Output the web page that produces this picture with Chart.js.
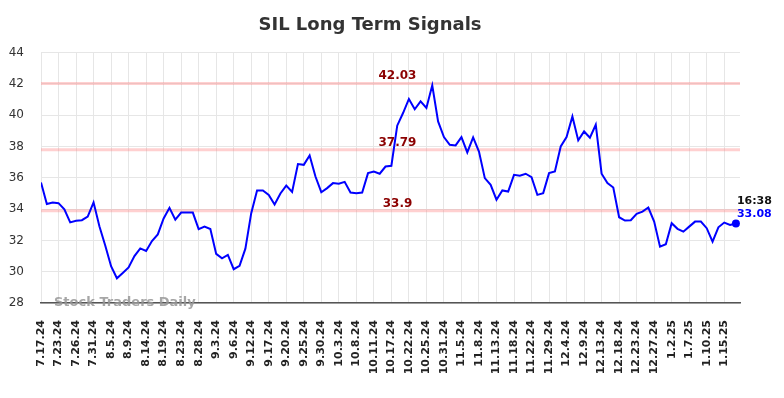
<!DOCTYPE html>
<html>
<head>
<meta charset="utf-8">
<script src="https://cdn.jsdelivr.net/npm/chart.js@4.4.1/dist/chart.umd.min.js"></script>
<style>
html,body{margin:0;padding:0;background:#fff;}
#wrap{width:784px;height:398px;}
</style>
</head>
<body>
<div id="wrap"><canvas id="c"></canvas></div>
<script>
// tick labels, one every 3rd trading day
const tickLabels = ['7.17.24','7.23.24','7.26.24','7.31.24','8.5.24','8.9.24','8.14.24','8.19.24','8.23.24','8.28.24',
  '9.3.24','9.6.24','9.12.24','9.17.24','9.20.24','9.25.24','9.30.24','10.3.24','10.8.24','10.11.24',
  '10.17.24','10.22.24','10.25.24','10.31.24','11.5.24','11.8.24','11.13.24','11.18.24','11.22.24','11.29.24',
  '12.4.24','12.9.24','12.13.24','12.18.24','12.23.24','12.27.24','1.2.25','1.7.25','1.10.25','1.15.25'];

const prices = [
  35.70, 34.33, 34.42, 34.38, 33.98, 33.15, 33.25, 33.29, 33.52, 34.43,
  32.90, 31.68, 30.35, 29.58, 29.92, 30.27, 31.00, 31.49, 31.33, 31.96,
  32.38, 33.40, 34.08, 33.33, 33.78, 33.78, 33.78, 32.72, 32.88, 32.73,
  31.14, 30.85, 31.07, 30.16, 30.38, 31.47, 33.74, 35.19, 35.19, 34.91,
  34.30, 35.00, 35.50, 35.10, 36.88, 36.83, 37.43, 36.08, 35.08, 35.34,
  35.66, 35.62, 35.74, 35.06, 35.02, 35.06, 36.30, 36.40, 36.26, 36.72,
  36.77, 39.33, 40.14, 41.04, 40.38, 40.88, 40.46, 41.91, 39.60, 38.60,
  38.11, 38.07, 38.60, 37.62, 38.58, 37.68, 35.98, 35.55, 34.60, 35.19,
  35.12, 36.19, 36.13, 36.26, 36.04, 34.91, 35.02, 36.30, 36.40, 38.00,
  38.60, 39.92, 38.39, 38.96, 38.56, 39.39, 36.26, 35.66, 35.38, 33.48,
  33.27, 33.29, 33.70, 33.84, 34.10, 33.20, 31.60, 31.76, 33.10, 32.74,
  32.56, 32.88, 33.20, 33.20, 32.78, 31.92, 32.84, 33.14, 32.99, 33.08
];

const levels = [42.03, 37.79, 33.9];
const yTicks = [28, 30, 32, 34, 36, 38, 40, 42, 44];
const lastTime = '16:38';

const lastIdx = prices.length - 1;
const FONT = "'DejaVu Sans', sans-serif";

const extras = {
  id: 'extras',
  beforeDatasetsDraw(chart) {
    const { ctx, chartArea: a, scales: { y } } = chart;
    ctx.save();
    ctx.strokeStyle = 'rgba(255,120,120,0.35)';
    ctx.lineWidth = 3;
    levels.forEach(v => {
      const py = y.getPixelForValue(v);
      ctx.beginPath(); ctx.moveTo(a.left, py); ctx.lineTo(a.right, py); ctx.stroke();
    });
    ctx.fillStyle = '#8b0000';
    ctx.font = 'bold 12px ' + FONT;
    ctx.textAlign = 'center';
    ctx.textBaseline = 'alphabetic';
    const lx = a.left + (a.right - a.left) * 0.51;
    levels.forEach(v => {
      ctx.fillText(String(v), lx, y.getPixelForValue(v) - 4);
    });
    ctx.restore();
  },
  afterDraw(chart) {
    const { ctx, chartArea: a } = chart;
    ctx.save();
    ctx.font = 'bold 13px ' + FONT;
    ctx.fillStyle = 'rgba(150,150,150,0.85)';
    ctx.textAlign = 'left';
    ctx.fillText('Stock Traders Daily', a.left + 13, a.bottom + 3);
    const pt = chart.getDatasetMeta(0).data[lastIdx];
    ctx.font = 'bold 11px ' + FONT;
    ctx.fillStyle = '#111';
    ctx.fillText(lastTime, pt.x + 1, pt.y - 19);
    ctx.fillStyle = '#0000ff';
    ctx.fillText(prices[lastIdx].toFixed(2), pt.x + 1, pt.y - 6);
    ctx.restore();
  }
};

new Chart(document.getElementById('c'), {
  type: 'line',
  data: {
    datasets: [{
      data: prices.map((v, i) => ({ x: i, y: v })),
      borderColor: '#0000ff',
      backgroundColor: '#0000ff',
      borderWidth: 2,
      tension: 0,
      pointRadius: c => c.dataIndex === lastIdx ? 4 : 0,
      pointBackgroundColor: '#0000ff',
      pointBorderWidth: 0,
      fill: false
    }]
  },
  options: {
    responsive: true, maintainAspectRatio: false,
    animation: false,
    layout: { padding: { left: 0, right: 44, top: 0, bottom: 0 } },
    plugins: {
      legend: { display: false },
      tooltip: { enabled: false },
      title: {
        display: true,
        text: 'SIL Long Term Signals',
        color: '#333',
        font: { family: FONT, size: 18, weight: 'bold' },
        padding: { top: 15, bottom: 16 }
      }
    },
    scales: {
      x: {
        type: 'linear',
        min: 0, max: 119.7,
        afterBuildTicks: s => { s.ticks = tickLabels.map((_, k) => ({ value: k * 3 })); },
        afterFit: s => { s.height = 95; },
        grid: { color: '#e6e6e6', drawTicks: false },
        border: { color: '#555', width: 1.5 },
        ticks: {
          autoSkip: false, minRotation: 90, maxRotation: 90, padding: 17,
          color: '#222', font: { family: FONT, size: 11, weight: 'bold' },
          callback: v => tickLabels[Math.round(v / 3)]
        }
      },
      y: {
        min: 28, max: 44,
        afterBuildTicks: s => { s.ticks = yTicks.map(v => ({ value: v })); },
        afterFit: s => { s.width = 41; },
        grid: { color: '#e6e6e6', drawTicks: false },
        border: { display: false },
        ticks: { padding: 17, color: '#333', font: { family: FONT, size: 12 } }
      }
    }
  },
  plugins: [extras]
});
</script>
</body>
</html>
